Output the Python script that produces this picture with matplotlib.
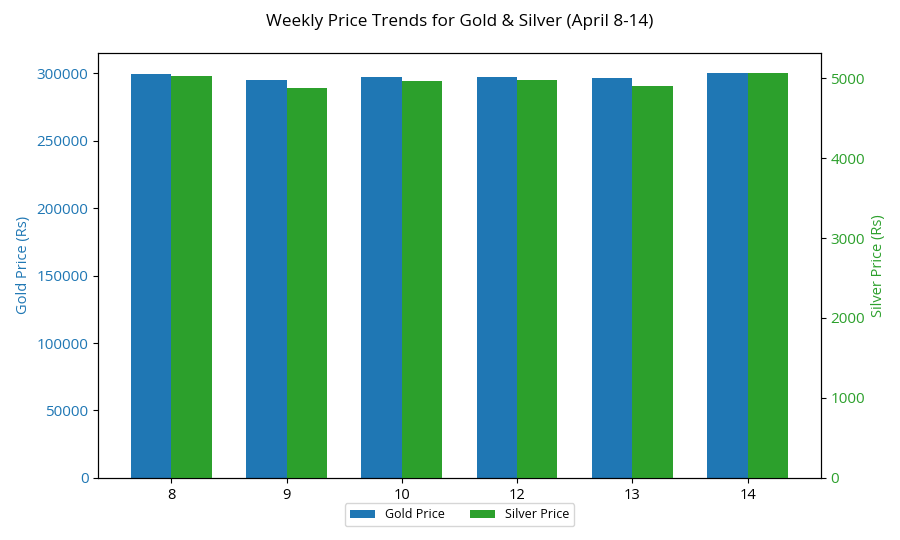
import numpy as np
import matplotlib.pyplot as plt

plt.rcParams['font.family'] = ['Open Sans', 'DejaVu Sans']

days = ['8', '9', '10', '12', '13', '14']
gold_price = [299500, 294800, 297700, 297700, 296700, 300200]
silver_price = [5025, 4875, 4966, 4975, 4900, 5062]

gold_color = '#1f77b4'
silver_color = '#2ca02c'

x = np.arange(len(days))
width = 0.35

fig, ax1 = plt.subplots(figsize=(9, 5.4), dpi=100)
fig.subplots_adjust(left=0.109, right=0.912, bottom=0.115, top=0.902)

b1 = ax1.bar(x - width/2, gold_price, width, color=gold_color, label='Gold Price')
ax1.set_ylabel('Gold Price (Rs)', color=gold_color, fontsize=10.5)
ax1.tick_params(axis='y', labelcolor=gold_color, labelsize=11)
ax1.tick_params(axis='x', labelsize=10.5)
ax1.set_xticks(x)
ax1.set_xticklabels(days)

ax2 = ax1.twinx()
b2 = ax2.bar(x + width/2, silver_price, width, color=silver_color, label='Silver Price')
ax2.set_ylabel('Silver Price (Rs)', color=silver_color, fontsize=10.5)
ax2.tick_params(axis='y', labelcolor=silver_color, labelsize=11)

fig.suptitle('Weekly Price Trends for Gold & Silver (April 8-14)', fontsize=12.3,
             x=0.511, y=0.975)

ax1.legend([b1, b2], ['Gold Price', 'Silver Price'], loc='upper center',
           bbox_to_anchor=(0.5, -0.045), ncol=2, fontsize=9)

plt.savefig('out.png', dpi=100)
